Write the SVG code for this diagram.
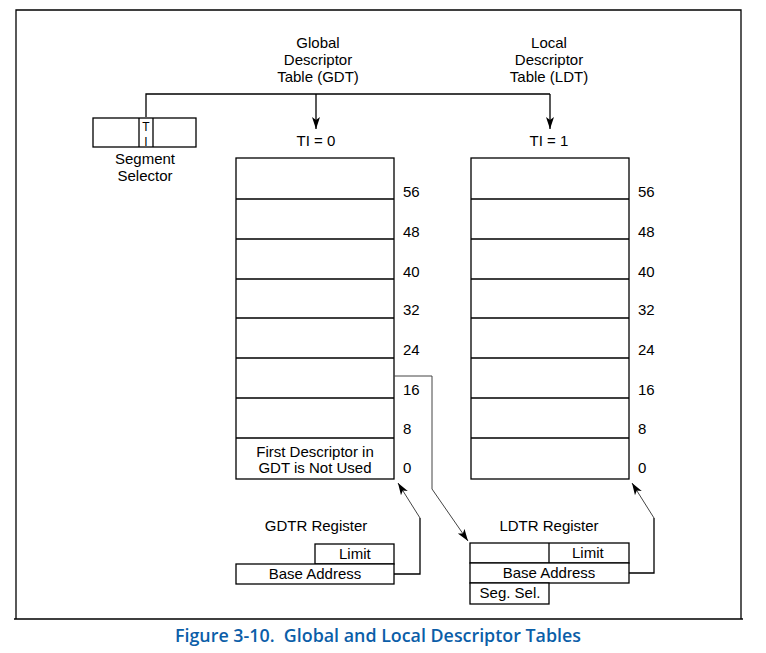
<svg xmlns="http://www.w3.org/2000/svg" width="766" height="653" viewBox="0 0 766 653">
<style>
.t{font-family:Arial,"Liberation Sans",sans-serif;font-size:15px;fill:#000}
.ti{font-family:Arial,"Liberation Sans",sans-serif;font-size:12px;fill:#000;text-anchor:middle}
.m{text-anchor:middle}
.box{fill:#fff;stroke:#000;stroke-width:1.3}
.ln{fill:none;stroke:#000;stroke-width:1.3}
.cn{fill:none;stroke:#444;stroke-width:1}
.cap{font-family:"Open Sans","Liberation Sans",sans-serif;font-size:18px;font-weight:600;fill:#0b5ea8}
</style>
<defs>
<marker id="ah" viewBox="0 0 12 10" refX="12" refY="5" markerWidth="12" markerHeight="10" markerUnits="userSpaceOnUse" orient="auto">
<path d="M0,1 L12,5 L0,9 L3,5 Z" fill="#000"/>
</marker>
</defs>
<rect width="766" height="653" fill="#fff"/>
<g id="frame"><path class="ln" d="M16,619 L16,10 L741,10 L741,619 M14,619 L743,619"/></g>

<g id="selector">
<rect class="box" x="93" y="118" width="103" height="29"/>
<line class="ln" x1="139" y1="118" x2="139" y2="147"/>
<line class="ln" x1="153" y1="118" x2="153" y2="147"/>
<text class="ti" x="146" y="131">T</text>
<text class="ti" x="146" y="145.5">I</text>
<text class="t m" x="145" y="164">Segment</text>
<text class="t m" x="145" y="181">Selector</text>
</g>

<g id="gdt-label">
<text class="t m" x="318" y="48">Global</text>
<text class="t m" x="318" y="65">Descriptor</text>
<text class="t m" x="318" y="82">Table (GDT)</text>
<text class="t m" x="316" y="146">TI = 0</text>
</g>
<g id="ldt-label">
<text class="t m" x="549" y="48">Local</text>
<text class="t m" x="549" y="65">Descriptor</text>
<text class="t m" x="549" y="82">Table (LDT)</text>
<text class="t m" x="549" y="146">TI = 1</text>
</g>

<g id="gdt">
<rect class="box" x="236" y="158" width="158" height="321"/>
<path class="ln" d="M236,199H394M236,239H394M236,279H394M236,318H394M236,358H394M236,398H394M236,438H394"/>
<text class="t m" x="315" y="457">First Descriptor in</text>
<text class="t m" x="315" y="473">GDT is Not Used</text>
<g class="t">
<text x="403" y="197">56</text><text x="403" y="237">48</text><text x="403" y="277">40</text><text x="403" y="315">32</text>
<text x="403" y="355">24</text><text x="403" y="395">16</text><text x="403" y="434">8</text><text x="403" y="473">0</text>
</g>
</g>

<g id="ldt">
<rect class="box" x="471" y="158" width="158" height="321"/>
<path class="ln" d="M471,199H629M471,239H629M471,279H629M471,318H629M471,358H629M471,398H629M471,438H629"/>
<g class="t">
<text x="638" y="197">56</text><text x="638" y="237">48</text><text x="638" y="277">40</text><text x="638" y="315">32</text>
<text x="638" y="355">24</text><text x="638" y="395">16</text><text x="638" y="434">8</text><text x="638" y="473">0</text>
</g>
</g>

<g id="gdtr">
<text class="t m" x="316" y="531">GDTR Register</text>
<rect class="box" x="315" y="544" width="79" height="20"/>
<rect class="box" x="236" y="564" width="158" height="20"/>
<text class="t" x="339" y="559">Limit</text>
<text class="t m" x="315" y="579">Base Address</text>
</g>

<g id="ldtr">
<text class="t m" x="549" y="531">LDTR Register</text>
<rect class="box" x="470" y="543" width="159" height="20"/>
<line class="ln" x1="549" y1="543" x2="549" y2="563"/>
<rect class="box" x="470" y="563" width="159" height="20"/>
<rect class="box" x="470" y="583" width="79" height="21"/>
<text class="t" x="572" y="558">Limit</text>
<text class="t m" x="549" y="578">Base Address</text>
<text class="t m" x="510" y="598">Seg. Sel.</text>
</g>

<g id="connectors">
<path class="ln" d="M146,117 V94 H550"/>
<path class="ln" d="M316,94 V129" marker-end="url(#ah)"/>
<path class="ln" d="M550,94 V129" marker-end="url(#ah)"/>
<path class="cn" d="M394,376 H432 V489 L468,541" marker-end="url(#ah)"/>
<path class="ln" d="M394,574 H420 V518" />
<path class="cn" d="M420,518 L398,483" marker-end="url(#ah)"/>
<path class="ln" d="M629,573 H654 V518"/>
<path class="cn" d="M654,518 L632,483" marker-end="url(#ah)"/>
</g>

<text class="cap" x="175" y="642" textLength="406" lengthAdjust="spacingAndGlyphs" xml:space="preserve">Figure 3-10.  Global and Local Descriptor Tables</text>
</svg>
